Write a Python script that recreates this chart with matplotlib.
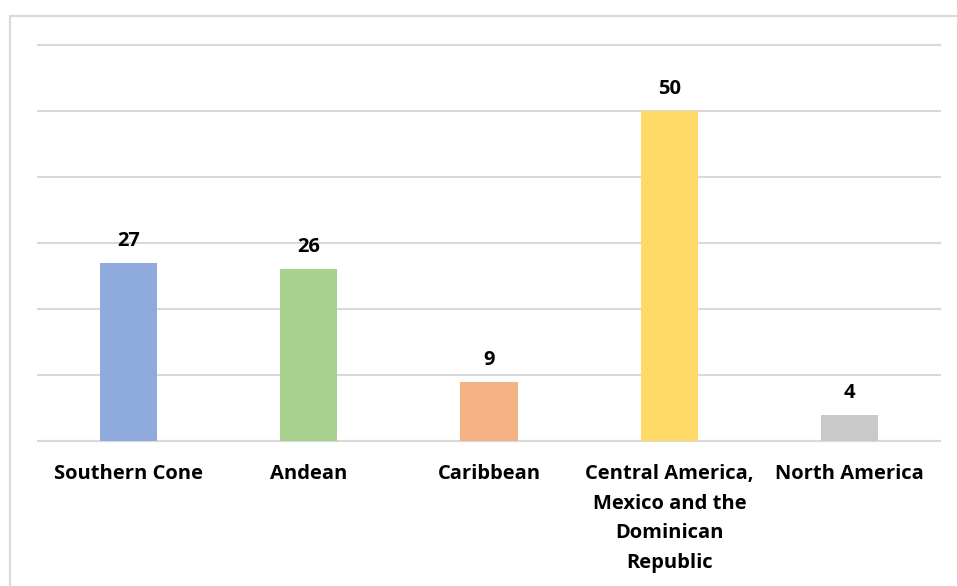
import matplotlib
matplotlib.use("Agg")
import matplotlib.pyplot as plt
from matplotlib.patches import Rectangle

categories = ["Southern Cone", "Andean", "Caribbean",
              "Central America,\nMexico and the\nDominican\nRepublic", "North America"]
values = [27, 26, 9, 50, 4]
colors = ["#8FAADC", "#A9D18E", "#F4B183", "#FFD966", "#C9C9C9"]

plt.rcParams['font.family'] = ['Open Sans', 'DejaVu Sans']

fig = plt.figure(figsize=(9.57, 5.86), dpi=100)
fig.patches.append(Rectangle((9.5/957, -0.1), 1.0, 1 - 15.5/586 + 0.1,
                             transform=fig.transFigure, fill=False,
                             edgecolor="#D9D9D9", linewidth=1.5))
ax = fig.add_axes([38/957, 1 - 441/586, (940-38)/957, (441-45)/586])
x = list(range(len(categories)))
bars = ax.bar(x, values, width=0.316, color=colors, zorder=3)
ax.set_xlim(-0.5, len(categories) - 0.5)
ax.set_ylim(0, 60)
ax.set_yticks(range(0, 61, 10))
ax.yaxis.grid(True, color="#D9D9D9", linewidth=1.5, zorder=0)
for gl in ax.get_ygridlines():
    gl.set_clip_on(False)
ax.tick_params(axis='y', left=False, labelleft=False)
ax.tick_params(axis='x', bottom=False, pad=13)
ax.set_xticks(x)
ax.set_xticklabels(categories, fontsize=14.5, fontweight='bold', linespacing=1.64, va='top')
for s in ["top", "right", "left"]:
    ax.spines[s].set_visible(False)
ax.spines["bottom"].set_color("#D9D9D9")
ax.spines["bottom"].set_linewidth(1.5)
for b, v in zip(bars, values):
    ax.annotate(str(v), (b.get_x() + b.get_width()/2, v), xytext=(0, 22),
                textcoords="offset pixels", ha='center', va='center',
                fontsize=14.5, fontweight='bold')
fig.savefig("out.png", dpi=100)
